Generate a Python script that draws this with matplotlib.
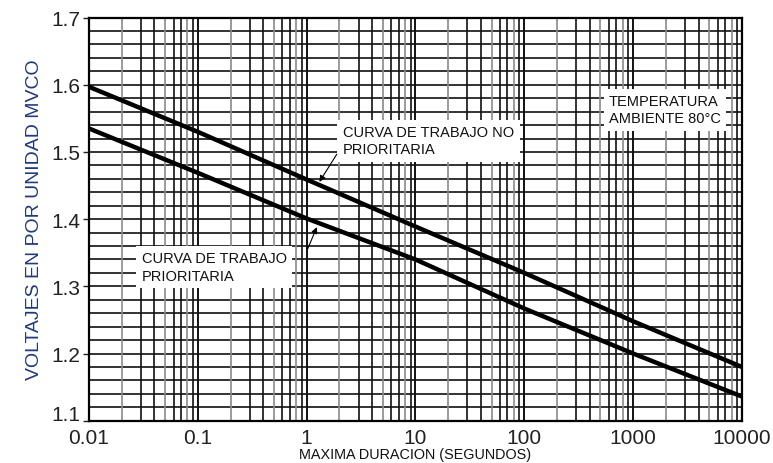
import numpy as np
import matplotlib
matplotlib.use("Agg")
import matplotlib.pyplot as plt
from matplotlib.ticker import FixedLocator, NullFormatter
from matplotlib.transforms import ScaledTranslation

# curve values (per-unit voltage vs. max duration in s)
durations = [0.01, 0.1, 1, 10, 100, 1000, 10000]
no_prioritaria = [1.597, 1.530, 1.459, 1.389, 1.320, 1.248, 1.180]
prioritaria = [1.535, 1.469, 1.401, 1.340, 1.267, 1.200, 1.136]

xticks = [0.01, 0.1, 1, 10, 100, 1000, 10000]
xtick_labels = ["0.01", "0.1", "1", "10", "100", "1000", "10000"]
yticks = [1.1, 1.2, 1.3, 1.4, 1.5, 1.6, 1.7]

plt.rcParams["font.family"] = ["Liberation Sans", "DejaVu Sans"]

fig = plt.figure(figsize=(7.73, 4.64), dpi=100)
ax = fig.add_axes([0.115, 0.091, 0.845, 0.869])
ax.set_xscale("log")
ax.set_xlim(0.01, 10000)
ax.set_ylim(1.1, 1.7)

# grid: horizontal every 0.02, vertical log decades with minor lines
for y in np.arange(1.1, 1.7001, 0.02):
    ax.axhline(y, color="#111111", lw=1.2, zorder=1)
for dec in xticks[:-1]:
    for m in range(2, 10):
        col = "#8a8a8a" if m in (2, 5, 8) else "#111111"
        ax.axvline(dec * m, color=col, lw=1.2, zorder=1)
for x in xticks:
    ax.axvline(x, color="#111111", lw=1.4, zorder=1)

ax.plot(durations, no_prioritaria, color="black", lw=3.2, zorder=3)
ax.plot(durations, prioritaria, color="black", lw=3.2, zorder=3)

box = dict(facecolor="white", edgecolor="none", pad=4)
tkw = dict(fontsize=10.5, va="top", ha="left", color="#111111", linespacing=1.3, zorder=5)
ax.text(2.16, 1.540, "CURVA DE TRABAJO NO\nPRIORITARIA", bbox=box, **tkw)
ax.text(0.0307, 1.352, "CURVA DE TRABAJO\nPRIORITARIA", bbox=box, **tkw)
ax.text(600, 1.586, "TEMPERATURA\nAMBIENTE 80°C", bbox=box, **tkw)

arrow = dict(arrowstyle="-|>", color="black", lw=0.8, mutation_scale=9)
ax.annotate("", xy=(1.27, 1.452), xytext=(1.95, 1.500), arrowprops=arrow, zorder=6)
ax.annotate("", xy=(1.27, 1.392), xytext=(1.0, 1.352), arrowprops=arrow, zorder=6)

ax.xaxis.set_major_locator(FixedLocator(xticks))
ax.set_xticklabels(xtick_labels)
ax.xaxis.set_minor_formatter(NullFormatter())
ax.set_yticks(yticks)
ax.set_yticklabels([f"{v:.1f}" for v in yticks])
ax.tick_params(axis="both", which="major", labelsize=15, colors="#222222",
               length=4, width=1, direction="out")
ax.tick_params(axis="x", which="minor", length=0)
ax.tick_params(axis="x", which="major", length=0, pad=5)
ax.tick_params(axis="y", which="major", pad=2)

# the 1.1 label sits a little above its line in the original
lbl = ax.get_yticklabels()[0]
lbl.set_transform(lbl.get_transform() + ScaledTranslation(0, 8 / 100, fig.dpi_scale_trans))

for s in ax.spines.values():
    s.set_linewidth(1.6)
    s.set_color("black")

ax.set_xlabel("MAXIMA DURACION (SEGUNDOS)", fontsize=10.4, color="#111111", labelpad=0)
ax.set_ylabel("VOLTAJES EN POR UNIDAD MVCO", fontsize=14, color="#22397a", labelpad=6)

fig.savefig("out.png", dpi=100)
